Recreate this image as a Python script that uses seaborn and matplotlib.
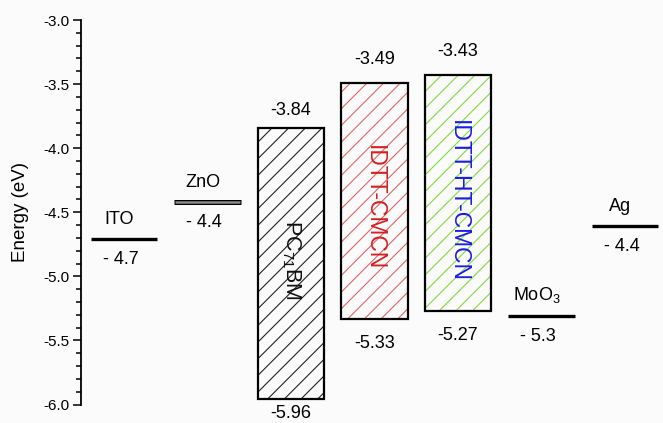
import numpy as np
import seaborn as sns
import matplotlib.pyplot as plt
from matplotlib.ticker import MultipleLocator, FormatStrFormatter

# Datos
categories = ["ITO", "ZnO", "PC71BM", "IDTT-CMCN", "IDTT-HT-CMCN", "MoO3", "Ag"]

bar_names = ["PC71BM", "IDTT-CMCN", "IDTT-HT-CMCN"]
bar_texts = ["PC$_{\\mathregular{71}}$BM", "IDTT-CMCN", "IDTT-HT-CMCN"]
lumo = [-3.84, -3.49, -3.43]
homo = [-5.96, -5.33, -5.27]
name_y = [-4.875, -4.465, -4.41]

level_names = ["ITO", "ZnO", "MoO3", "Ag"]
level_texts = ["ITO", "ZnO", "MoO$_{\\mathregular{3}}$", "Ag"]
level_values = [-4.71, -4.42, -5.31, -4.61]
level_labels = ["- 4.7", "- 4.4", "- 5.3", "- 4.4"]

# Estilo
sns.set_style("ticks")
plt.rcParams['font.family'] = ['Liberation Sans', 'DejaVu Sans']
plt.rcParams['mathtext.fontset'] = 'custom'
plt.rcParams['mathtext.rm'] = 'Liberation Sans'
plt.rcParams['axes.unicode_minus'] = False
plt.rcParams['hatch.linewidth'] = 0.8
plt.rcParams['text.color'] = 'black'
plt.rcParams['axes.labelcolor'] = 'black'
plt.rcParams['ytick.color'] = 'black'
plt.rcParams['axes.edgecolor'] = 'black'

hatch_colors = ["#222222", "#e36464", "#7fdc3a"]
text_colors = ["#111111", "#d71f1f", "#1b1bea"]
name_sizes = [15.5, 16.5, 16.5]
top_off = [6, 11, 11]
bot_off = [-4, -11.5, -11.5]
bg = "#fbfbfb"

fig = plt.figure(figsize=(6.63, 4.23), dpi=100, facecolor=bg)
ax = fig.add_axes([0.1222, 0.0437, 0.8778, 0.909])
ax.set_facecolor(bg)

xpos = {c: i for i, c in enumerate(categories)}
w = 0.80

# Barras (LUMO/HOMO)
for i, name in enumerate(bar_names):
    x = xpos[name]
    top, bot = lumo[i], homo[i]
    ax.bar(x, top - bot, bottom=bot, width=w, color="none",
           edgecolor=hatch_colors[i], hatch="//", linewidth=0)
    ax.bar(x, top - bot, bottom=bot, width=w, fill=False, edgecolor="black",
           linewidth=1.6)
    ax.annotate(f"{top:.2f}", (x, top), xytext=(0, top_off[i]),
                textcoords="offset points", ha="center", va="bottom", fontsize=13)
    ax.annotate(f"{bot:.2f}", (x, bot), xytext=(0, bot_off[i]),
                textcoords="offset points", ha="center", va="top", fontsize=13)
    ax.text(x, name_y[i], bar_texts[i], rotation=-90, ha="center", va="center",
            fontsize=name_sizes[i], color=text_colors[i])

# Niveles (electrodos)
for name, txt, val, lab in zip(level_names, level_texts, level_values, level_labels):
    x = xpos[name]
    if name == "ZnO":
        ax.hlines(val, x - w / 2, x + w / 2, color="black", linewidth=3.6)
        ax.hlines(val, x - w / 2 + 0.015, x + w / 2 - 0.015, color="#8a8a8a",
                  linewidth=1.8)
    else:
        ax.hlines(val, x - w / 2, x + w / 2, color="black", linewidth=2.4)
    ax.annotate(txt, (x - 0.06, val), xytext=(0, 8), textcoords="offset points",
                ha="center", va="bottom", fontsize=13)
    ax.annotate(lab, (x - 0.04, val), xytext=(0, -8.5), textcoords="offset points",
                ha="center", va="top", fontsize=13)

# Ejes
ax.set_xlim(-0.515, 6.455)
ax.set_ylim(-6.0, -3.0)
ax.yaxis.set_major_locator(MultipleLocator(0.5))
ax.yaxis.set_minor_locator(MultipleLocator(0.1))
ax.yaxis.set_major_formatter(FormatStrFormatter('%.1f'))
ax.tick_params(axis='y', which='major', direction='out', length=6, width=1.1,
               labelsize=11, pad=2)
ax.tick_params(axis='y', which='minor', direction='out', length=3.5, width=1.1)
ax.set_xticks([])
for s in ["top", "right", "bottom"]:
    ax.spines[s].set_visible(False)
ax.spines["left"].set_linewidth(1.3)
ax.set_ylabel("Energy (eV)", fontsize=13.5, labelpad=11)

fig.savefig("out.png", dpi=100, facecolor=bg)
